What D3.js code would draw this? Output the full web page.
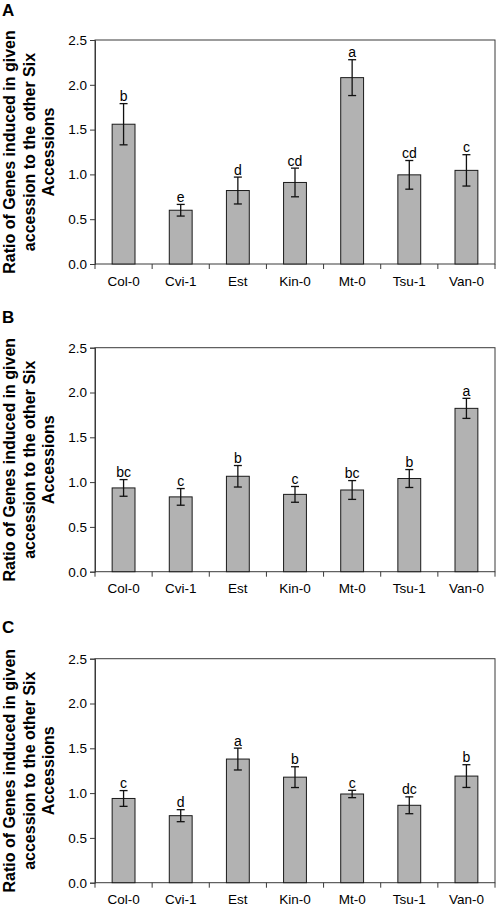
<!DOCTYPE html>
<html>
<head>
<meta charset="utf-8">
<script src="https://cdn.jsdelivr.net/npm/d3@7"></script>
<style>
  html, body { margin: 0; padding: 0; background: #fff; }
  svg { display: block; }
  text { font-family: "Liberation Sans", Arial, sans-serif; fill: #000; }
</style>
</head>
<body>
<svg id="chart" width="498" height="906"></svg>
<script>
const categories = ["Col-0", "Cvi-1", "Est", "Kin-0", "Mt-0", "Tsu-1", "Van-0"];
const yTicks = [0, 0.5, 1.0, 1.5, 2.0, 2.5];
const panelLabels = ["A", "B", "C"];
const titleLines = ["Ratio of Genes induced in given", "accession to the other Six", "Accessions"];

const valuesA = [1.56, 0.60, 0.82, 0.91, 2.08, 0.995, 1.045];
const errorsA = [0.23, 0.065, 0.15, 0.16, 0.20, 0.16, 0.175];
const lettersA = ["b", "e", "d", "cd", "a", "cd", "c"];

const valuesB = [0.935, 0.835, 1.065, 0.863, 0.912, 1.04, 1.823];
const errorsB = [0.093, 0.093, 0.12, 0.088, 0.105, 0.10, 0.112];
const lettersB = ["bc", "c", "b", "c", "bc", "b", "a"];

const valuesC = [0.94, 0.748, 1.38, 1.178, 0.99, 0.864, 1.19];
const errorsC = [0.088, 0.067, 0.122, 0.116, 0.041, 0.094, 0.127];
const lettersC = ["c", "d", "a", "b", "c", "dc", "b"];

const panels = [
  { label: panelLabels[0], values: valuesA, errors: errorsA, letters: lettersA, top: 40, bottom: 264, labelY: 16 },
  { label: panelLabels[1], values: valuesB, errors: errorsB, letters: lettersB, top: 347.7, bottom: 571.7, labelY: 323 },
  { label: panelLabels[2], values: valuesC, errors: errorsC, letters: lettersC, top: 658.7, bottom: 882.7, labelY: 633 }
];

const svg = d3.select("#chart");
const left = 95, right = 495;
const frameColor = "#3a3a3a";

const x = d3.scaleBand().domain(categories).range([left, right]).paddingInner(0.6).paddingOuter(0.3);
const xOuter = d3.scaleBand().domain(categories).range([left, right]);

panels.forEach(p => {
  const g = svg.append("g");
  const y = d3.scaleLinear().domain([0, 2.5]).range([p.bottom, p.top]);

  // panel label
  g.append("text").attr("x", 2).attr("y", p.labelY)
    .attr("font-size", 17).attr("font-weight", "bold").text(p.label);

  // y axis title
  const cy = (p.top + p.bottom) / 2;
  const baselines = [14.5, 34.5, 54];
  titleLines.forEach((t, i) => {
    g.append("text")
      .attr("transform", `translate(${baselines[i]},${cy}) rotate(-90)`)
      .attr("text-anchor", "middle")
      .attr("font-size", 16).attr("font-weight", "bold")
      .text(t);
  });

  // frame
  g.append("rect").attr("x", left).attr("y", p.top)
    .attr("width", right - left).attr("height", p.bottom - p.top)
    .attr("fill", "none").attr("stroke", frameColor).attr("stroke-width", 1);

  // y axis
  const yAxis = d3.axisLeft(y).tickValues(yTicks).tickFormat(d3.format(".1f")).tickSizeOuter(0).tickSize(5).tickPadding(3);
  const ya = g.append("g").attr("transform", `translate(${left},0)`).call(yAxis);
  ya.select(".domain").attr("stroke", frameColor);
  ya.selectAll(".tick line").attr("stroke", frameColor);
  ya.selectAll(".tick text").attr("font-size", 13.5).attr("font-family", "Liberation Sans, Arial, sans-serif").attr("fill", "#000");

  // x axis: labels centred in bands, ticks at band boundaries
  const xAxis = d3.axisBottom(x).tickSize(0).tickPadding(12).tickSizeOuter(0);
  const xa = g.append("g").attr("transform", `translate(0,${p.bottom})`).call(xAxis);
  xa.select(".domain").remove();
  xa.selectAll(".tick text").attr("font-size", 13.5).attr("font-family", "Liberation Sans, Arial, sans-serif").attr("fill", "#000");
  const bounds = categories.map(c => xOuter(c)).concat([right]);
  g.selectAll(".xsep").data(bounds).enter().append("line")
    .attr("x1", d => d).attr("x2", d => d)
    .attr("y1", p.bottom).attr("y2", p.bottom + 5)
    .attr("stroke", frameColor);

  // bars
  g.selectAll(".bar").data(categories).enter().append("rect")
    .attr("x", c => x(c))
    .attr("width", x.bandwidth())
    .attr("y", (c, i) => y(p.values[i]))
    .attr("height", (c, i) => p.bottom - y(p.values[i]))
    .attr("fill", "#b2b2b2").attr("stroke", "#1a1a1a").attr("stroke-width", 1);

  // error bars
  const cap = 4;
  categories.forEach((c, i) => {
    const cx = x(c) + x.bandwidth() / 2;
    const hi = y(p.values[i] + p.errors[i]);
    const lo = y(p.values[i] - p.errors[i]);
    g.append("line").attr("x1", cx).attr("x2", cx).attr("y1", hi).attr("y2", lo).attr("stroke", "#111").attr("stroke-width", 1.3);
    g.append("line").attr("x1", cx - cap).attr("x2", cx + cap).attr("y1", hi).attr("y2", hi).attr("stroke", "#111").attr("stroke-width", 1.3);
    g.append("line").attr("x1", cx - cap).attr("x2", cx + cap).attr("y1", lo).attr("y2", lo).attr("stroke", "#111").attr("stroke-width", 1.3);
    g.append("text").attr("x", cx).attr("y", hi - 2.5)
      .attr("text-anchor", "middle").attr("font-size", 14)
      .text(p.letters[i]);
  });
});
</script>
</body>
</html>
